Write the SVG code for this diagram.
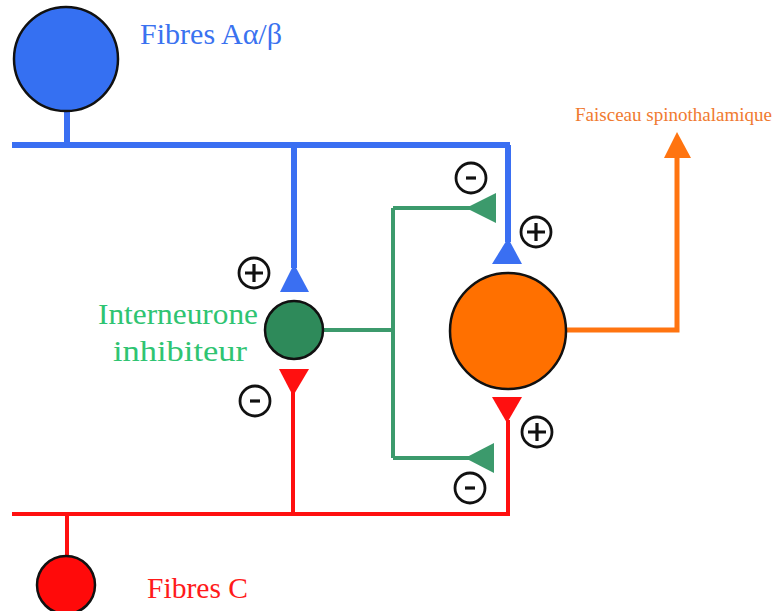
<svg xmlns="http://www.w3.org/2000/svg" width="775" height="611" viewBox="0 0 775 611">
<style>
.blue{stroke:#3a6ff2;fill:none;stroke-width:6}
.green{stroke:#3c9a6c;fill:none;stroke-width:4}
.red{stroke:#ff1010;fill:none;stroke-width:4}
.orange{stroke:#ff7410;fill:none;stroke-width:5}
.cell{stroke:#111;stroke-width:2.5}
.sign circle{fill:#fff;stroke:#111;stroke-width:2.8}
.sign path{stroke:#111;stroke-width:3.2;fill:none}
.lbl{font-family:"Liberation Serif","Times New Roman",serif}
</style>
<rect width="775" height="611" fill="#fff"/>
<g id="connectors">
  <path class="blue" d="M67,108 V145 M12,145 H510 M294,145 V268 M508,145 V242"/>
  <polygon points="294,264 280,292 309,292" fill="#3a6ff2"/>
  <polygon points="508,238 492,264 522,264" fill="#3a6ff2"/>
  <path class="green" d="M323,330 H393 M393,208 V458 M393,208 H470 M393,458 H470"/>
  <polygon points="466,208 496,193 496,223" fill="#3c9a6c"/>
  <polygon points="465,458 494,443 494,473" fill="#3c9a6c"/>
  <path class="red" d="M67,555 V514 M12,514 H508 V420 M293,514 V392"/>
  <polygon points="279,369 309,369 293,396" fill="#ff1010"/>
  <polygon points="492,397 522,397 507,423" fill="#ff1010"/>
  <path class="orange" d="M566,330 H677 V152"/>
  <polygon points="677,132 664,158 691,158" fill="#ff7410"/>
</g>
<g id="fibres-ab">
  <circle class="cell" cx="66" cy="59" r="52" fill="#3570f2"/>
  <text class="lbl" x="140" y="44" font-size="29" fill="#3a72f0" textLength="142" lengthAdjust="spacingAndGlyphs">Fibres Aα/β</text>
</g>
<g id="fibres-c">
  <circle class="cell" cx="66" cy="585" r="29" fill="#ff0a0a"/>
  <text class="lbl" x="147" y="598" font-size="30" fill="#ff1a1a" textLength="101" lengthAdjust="spacingAndGlyphs">Fibres C</text>
</g>
<g id="interneurone">
  <circle class="cell" cx="294" cy="330" r="29" fill="#2e8a5a"/>
  <text class="lbl" x="178" y="324" font-size="29" fill="#2fc472" text-anchor="middle" textLength="160" lengthAdjust="spacingAndGlyphs">Interneurone</text>
  <text class="lbl" x="180" y="361" font-size="29" fill="#2fc472" text-anchor="middle" textLength="134" lengthAdjust="spacingAndGlyphs">inhibiteur</text>
</g>
<g id="projection-neuron">
  <circle class="cell" cx="508" cy="331" r="58" fill="#ff7000"/>
</g>
<g id="faisceau">
  <text class="lbl" x="575" y="121" font-size="19" fill="#f07a30" textLength="197" lengthAdjust="spacingAndGlyphs">Faisceau spinothalamique</text>
</g>
<g id="signs">
  <g class="sign" id="plus-inter"><circle cx="254" cy="273" r="15"/><path d="M245,273 H263 M254,264 V282"/></g>
  <g class="sign" id="minus-inter"><circle cx="255" cy="401" r="15"/><path d="M250,401 H260"/></g>
  <g class="sign" id="minus-top"><circle cx="471" cy="178" r="15"/><path d="M466,178 H476"/></g>
  <g class="sign" id="plus-top"><circle cx="536" cy="232" r="15"/><path d="M527,232 H545 M536,223 V241"/></g>
  <g class="sign" id="plus-bottom"><circle cx="537" cy="432" r="15"/><path d="M528,432 H546 M537,423 V441"/></g>
  <g class="sign" id="minus-bottom"><circle cx="470" cy="488" r="15"/><path d="M465,488 H475"/></g>
</g>
</svg>
